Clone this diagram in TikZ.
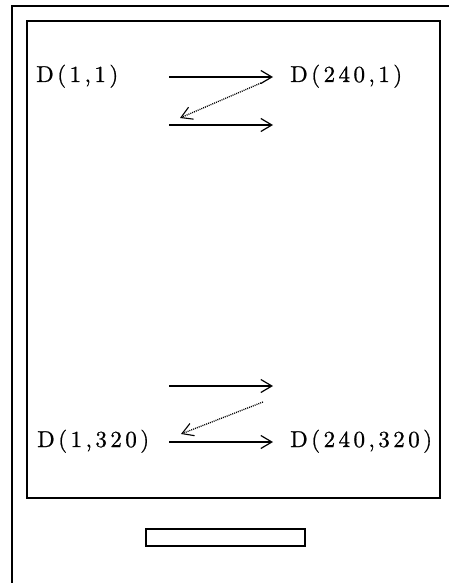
\documentclass[tikz,border=0pt]{standalone}
\usepackage{fontspec}
\newfontfamily\lblfont{lmroman10-regular.otf}[LetterSpace=15,FakeBold=0.8]
\usetikzlibrary{arrows.meta}
\tikzset{
  lbl/.style={anchor=base west, inner sep=0pt, font=\lblfont\fontsize{23}{27}\selectfont},
  frame/.style={draw=black, line width=1.8pt},
  arr/.style={line width=1.2pt, -{Straight Barb[length=11pt,width=13pt,line width=1.2pt]}},
  darr/.style={line width=1.3pt, dash pattern=on 1pt off 1pt, -{Straight Barb[length=11pt,width=13pt,line width=1.1pt,sep=0pt]}}
}
\begin{document}
\begin{tikzpicture}[x=1pt,y=-1pt]
\useasboundingbox (0,0) rectangle (448,583);
% outer case
\draw[line width=1.6pt] (12,600) -- (12,6) -- (460,6);
% screen
\draw[frame] (27,21) rectangle (440,498);
% slot
\draw[line width=1.5pt] (146,529) rectangle (305,546);
% labels
\node[lbl] (d11) at (36,82) {D(1,1)};
\node[lbl] (d2401) at (290,82) {D(240,1)};
\node[lbl] (d1320) at (37,447) {D(1,320)};
\node[lbl] (d240320) at (290,447) {D(240,320)};
% top arrows
\coordinate (a1s) at (169,77); \coordinate (a1e) at (273,77);
\coordinate (a2s) at (169,125); \coordinate (a2e) at (273,125);
\coordinate (b1s) at (261,83); \coordinate (b1e) at (180,118);
\draw[arr] (a1s) -- (a1e);
\draw[arr] (a2s) -- (a2e);
\draw[darr] (b1s) -- (b1e);
% bottom arrows
\coordinate (c1s) at (169,386); \coordinate (c1e) at (273,386);
\coordinate (c2s) at (169,442); \coordinate (c2e) at (273,442);
\coordinate (e1s) at (263,402); \coordinate (e1e) at (181,434);
\draw[arr] (c1s) -- (c1e);
\draw[arr] (c2s) -- (c2e);
\draw[darr] (e1s) -- (e1e);
\end{tikzpicture}
\end{document}
